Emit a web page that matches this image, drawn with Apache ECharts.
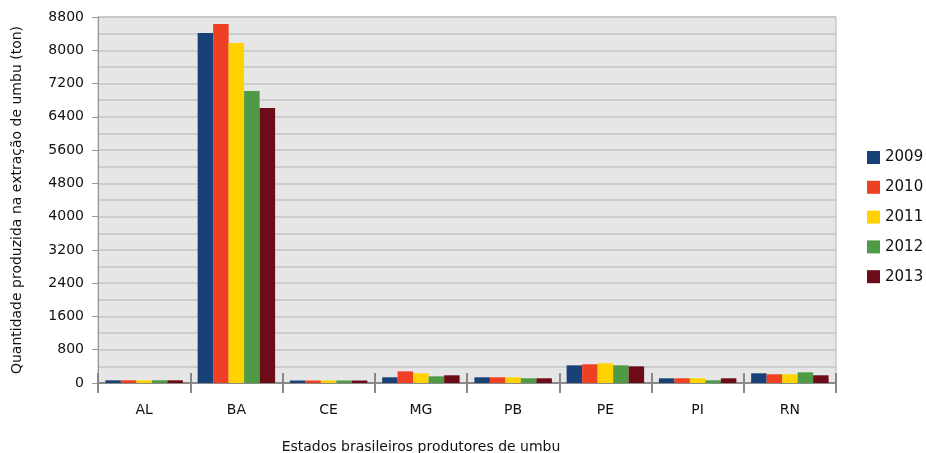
<!DOCTYPE html>
<html>
<head>
<meta charset="utf-8">
<script src="https://cdn.jsdelivr.net/npm/echarts@6/dist/echarts.min.js"></script>
<style>
  html, body { margin: 0; padding: 0; background: #fff; }
  #chart { width: 926px; height: 453px; }
</style>
</head>
<body>
<div id="chart"></div>
<script>
// estados produtores
var estados = ["AL", "BA", "CE", "MG", "PB", "PE", "PI", "RN"];
var anos = ["2009", "2010", "2011", "2012", "2013"];
var cores = ["#1a4078", "#f04023", "#ffd200", "#4e9a45", "#6e0b18"];

// quantidade (ton) por ano, na ordem dos estados
var q2009 = [65, 8415, 60, 137, 137, 425, 113, 233];
var q2010 = [65, 8632, 60, 280, 137, 450, 113, 209];
var q2011 = [65, 8175, 60, 233, 137, 473, 113, 209];
var q2012 = [65, 7021, 60, 160, 113, 425, 65, 257];
var q2013 = [65, 6612, 60, 185, 113, 400, 113, 185];
var valores = [q2009, q2010, q2011, q2012, q2013];

var fonte = "DejaVu Sans";
var chart = echarts.init(document.getElementById("chart"));

var series = anos.map(function (ano, i) {
  return {
    name: ano,
    type: "bar",
    xAxisIndex: 0,
    data: valores[i],
    itemStyle: { color: cores[i] },
    barGap: "0%",
    barCategoryGap: "16%"
  };
});

chart.setOption({
  animation: false,
  textStyle: { fontFamily: fonte },
  grid: {
    left: 98, right: 90, top: 17, bottom: 70,
    outerBoundsMode: "none",
    containLabel: false,
    show: true,
    backgroundColor: "#e6e6e6",
    borderColor: "#b4b4b4",
    borderWidth: 1
  },
  legend: {
    orient: "vertical",
    left: 862,
    top: 145,
    itemWidth: 13,
    itemHeight: 13,
    itemGap: 14.8,
    icon: "rect",
    textStyle: { fontFamily: fonte, fontSize: 15, color: "#111" },
    data: anos
  },
  xAxis: [
    {
      type: "category",
      data: estados,
      position: "bottom",
      name: "Estados brasileiros produtores de umbu",
      nameLocation: "middle",
      nameGap: 57,
      nameTextStyle: { fontFamily: fonte, fontSize: 14, color: "#111", padding: [0, 92, 0, 0] },
      axisLine: { lineStyle: { color: "#777", width: 1.5 } },
      axisTick: { show: true, length: 10, lineStyle: { color: "#888", width: 2 } },
      axisLabel: { fontFamily: fonte, fontSize: 14, color: "#111", margin: 20 }
    },
    {
      type: "category",
      data: estados,
      position: "bottom",
      axisLine: { show: false },
      axisTick: { show: true, inside: true, length: 10, lineStyle: { color: "#888", width: 2 } },
      axisLabel: { show: false }
    }
  ],
  yAxis: {
    type: "value",
    min: 0,
    max: 8800,
    interval: 800,
    name: "Quantidade produzida na extração de umbu (ton)",
    nameLocation: "middle",
    nameGap: 74,
    nameTextStyle: { fontFamily: fonte, fontSize: 14, color: "#111" },
    axisLine: { show: true, lineStyle: { color: "#999" } },
    axisTick: { show: true, length: 6, lineStyle: { color: "#999" } },
    axisLabel: {
      fontFamily: fonte, fontSize: 14, color: "#111", margin: 14,
      formatter: function (v) { return String(v); }
    },
    splitLine: { show: true, lineStyle: { color: "#c4c4c4", width: 1.5 } },
    minorTick: { show: false, splitNumber: 2 },
    minorSplitLine: { show: true, lineStyle: { color: "#c4c4c4", width: 1.5 } }
  },
  series: series
});
</script>
</body>
</html>
